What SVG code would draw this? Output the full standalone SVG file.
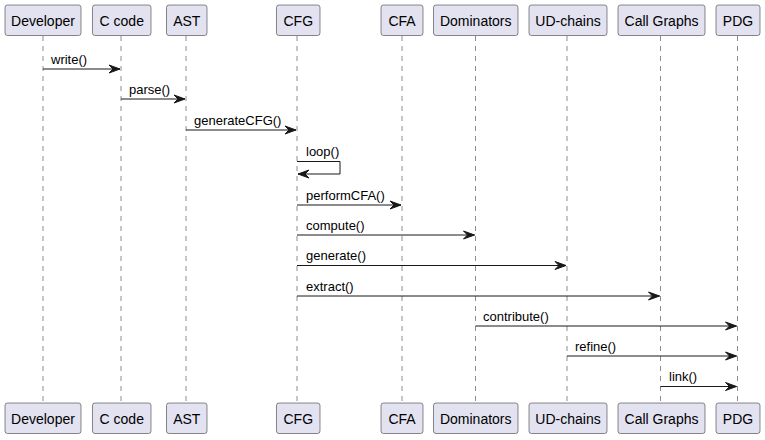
<svg xmlns="http://www.w3.org/2000/svg" width="765" height="440" viewBox="0 0 765 440">
<style>
.box{fill:#E2E2F0;stroke:#181818;stroke-width:0.5}
.pt{font-family:"Liberation Sans",Arial,sans-serif;font-size:14px;fill:#000;text-anchor:middle}
.life{stroke:#181818;stroke-width:0.5;stroke-dasharray:5,5;fill:none}
.msg{stroke:#181818;stroke-width:1;fill:none}
.ah{fill:#181818;stroke:#181818;stroke-width:1}
.lt{font-family:"Liberation Sans",Arial,sans-serif;font-size:13px;fill:#000}
</style>
<rect width="765" height="440" fill="#FFFFFF"/>
<g id="lifelines">
<line class="life" x1="43" y1="36" x2="43" y2="403"/>
<line class="life" x1="121" y1="36" x2="121" y2="403"/>
<line class="life" x1="186" y1="36" x2="186" y2="403"/>
<line class="life" x1="297" y1="36" x2="297" y2="403"/>
<line class="life" x1="402" y1="36" x2="402" y2="403"/>
<line class="life" x1="475.5" y1="36" x2="475.5" y2="403"/>
<line class="life" x1="567" y1="36" x2="567" y2="403"/>
<line class="life" x1="660.5" y1="36" x2="660.5" y2="403"/>
<line class="life" x1="737.5" y1="36" x2="737.5" y2="403"/>
</g>
<g id="Developer">
<rect class="box" x="5" y="5" width="76" height="30.5" rx="2.5"/>
<text class="pt" x="43" y="26">Developer</text>
<rect class="box" x="5" y="403" width="76" height="30.5" rx="2.5"/>
<text class="pt" x="43" y="424">Developer</text>
</g>
<g id="Ccode">
<rect class="box" x="92.5" y="5" width="58.5" height="30.5" rx="2.5"/>
<text class="pt" x="121.75" y="26">C code</text>
<rect class="box" x="92.5" y="403" width="58.5" height="30.5" rx="2.5"/>
<text class="pt" x="121.75" y="424">C code</text>
</g>
<g id="AST">
<rect class="box" x="166.5" y="5" width="40.5" height="30.5" rx="2.5"/>
<text class="pt" x="186.75" y="26">AST</text>
<rect class="box" x="166.5" y="403" width="40.5" height="30.5" rx="2.5"/>
<text class="pt" x="186.75" y="424">AST</text>
</g>
<g id="CFG">
<rect class="box" x="276.5" y="5" width="43.5" height="30.5" rx="2.5"/>
<text class="pt" x="298.25" y="26">CFG</text>
<rect class="box" x="276.5" y="403" width="43.5" height="30.5" rx="2.5"/>
<text class="pt" x="298.25" y="424">CFG</text>
</g>
<g id="CFA">
<rect class="box" x="381" y="5" width="42" height="30.5" rx="2.5"/>
<text class="pt" x="402" y="26">CFA</text>
<rect class="box" x="381" y="403" width="42" height="30.5" rx="2.5"/>
<text class="pt" x="402" y="424">CFA</text>
</g>
<g id="Dominators">
<rect class="box" x="433.5" y="5" width="84.5" height="30.5" rx="2.5"/>
<text class="pt" x="475.75" y="26">Dominators</text>
<rect class="box" x="433.5" y="403" width="84.5" height="30.5" rx="2.5"/>
<text class="pt" x="475.75" y="424">Dominators</text>
</g>
<g id="UDchains">
<rect class="box" x="529" y="5" width="78" height="30.5" rx="2.5"/>
<text class="pt" x="568" y="26">UD-chains</text>
<rect class="box" x="529" y="403" width="78" height="30.5" rx="2.5"/>
<text class="pt" x="568" y="424">UD-chains</text>
</g>
<g id="CallGraphs">
<rect class="box" x="618" y="5" width="87" height="30.5" rx="2.5"/>
<text class="pt" x="661.5" y="26">Call Graphs</text>
<rect class="box" x="618" y="403" width="87" height="30.5" rx="2.5"/>
<text class="pt" x="661.5" y="424">Call Graphs</text>
</g>
<g id="PDG">
<rect class="box" x="716" y="5" width="44" height="30.5" rx="2.5"/>
<text class="pt" x="738" y="26">PDG</text>
<rect class="box" x="716" y="403" width="44" height="30.5" rx="2.5"/>
<text class="pt" x="738" y="424">PDG</text>
</g>
<g id="connectors">
<line class="msg" x1="43" y1="69" x2="120" y2="69"/>
<polygon class="ah" points="109,65 120,69 109,73 113,69"/>
<text class="lt" x="51" y="64">write()</text>

<line class="msg" x1="121" y1="99" x2="185" y2="99"/>
<polygon class="ah" points="174,95 185,99 174,103 178,99"/>
<text class="lt" x="129" y="94">parse()</text>

<line class="msg" x1="186" y1="130" x2="296" y2="130"/>
<polygon class="ah" points="285,126 296,130 285,134 289,130"/>
<text class="lt" x="194" y="125">generateCFG()</text>

<polyline class="msg" points="297,161.5 340,161.5 340,174 298,174"/>
<polygon class="ah" points="309,170 298,174 309,178 305,174"/>
<text class="lt" x="306" y="156">loop()</text>

<line class="msg" x1="297" y1="205" x2="401" y2="205"/>
<polygon class="ah" points="390,201 401,205 390,209 394,205"/>
<text class="lt" x="306" y="200">performCFA()</text>

<line class="msg" x1="297" y1="235" x2="474.5" y2="235"/>
<polygon class="ah" points="463.5,231 474.5,235 463.5,239 467.5,235"/>
<text class="lt" x="306" y="230">compute()</text>

<line class="msg" x1="297" y1="265.5" x2="566" y2="265.5"/>
<polygon class="ah" points="555,261.5 566,265.5 555,269.5 559,265.5"/>
<text class="lt" x="306" y="260">generate()</text>

<line class="msg" x1="297" y1="296" x2="659.5" y2="296"/>
<polygon class="ah" points="648.5,292 659.5,296 648.5,300 652.5,296"/>
<text class="lt" x="306" y="291">extract()</text>

<line class="msg" x1="475.5" y1="326" x2="736.5" y2="326"/>
<polygon class="ah" points="725.5,322 736.5,326 725.5,330 729.5,326"/>
<text class="lt" x="483" y="321">contribute()</text>

<line class="msg" x1="567" y1="356" x2="736.5" y2="356"/>
<polygon class="ah" points="725.5,352 736.5,356 725.5,360 729.5,356"/>
<text class="lt" x="575" y="351">refine()</text>

<line class="msg" x1="660.5" y1="386.5" x2="736.5" y2="386.5"/>
<polygon class="ah" points="725.5,382.5 736.5,386.5 725.5,390.5 729.5,386.5"/>
<text class="lt" x="669" y="381">link()</text>
</g>
</svg>
